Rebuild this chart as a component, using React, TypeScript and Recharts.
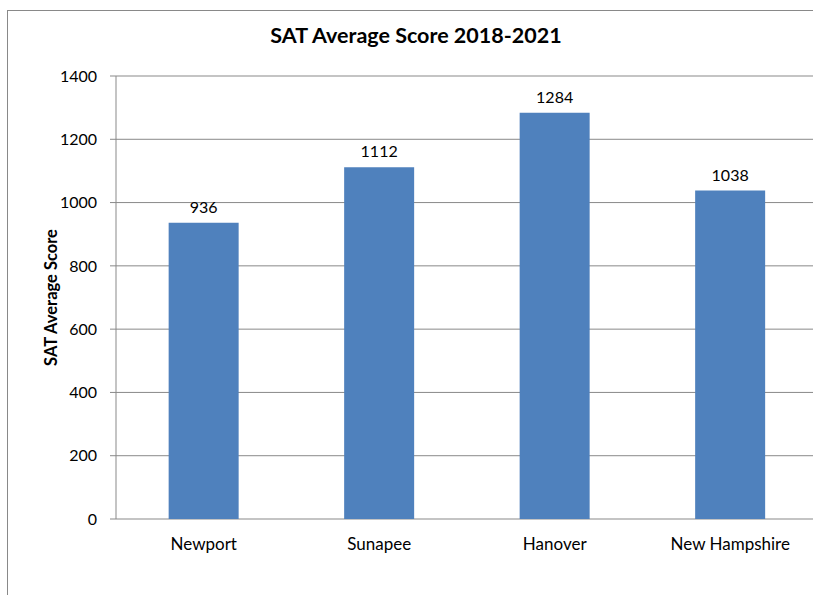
import React from "react";
import { BarChart, Bar, XAxis, YAxis, CartesianGrid, LabelList } from "recharts";

const categories = ["Newport", "Sunapee", "Hanover", "New Hampshire"];
const scores = [936, 1112, 1284, 1038];
const yTicks = [0, 200, 400, 600, 800, 1000, 1200, 1400];
const boundaryTicks = [0, 1, 2, 3, 4];

const data = categories.map((name, i) => ({ name, score: scores[i] }));

const FONT = "Lato, 'Open Sans', sans-serif";
const GRAY = "#898989";

export default function App() {
  return (
    <div
      style={{
        position: "fixed",
        left: 0,
        top: 0,
        width: 813,
        height: 595,
        overflow: "hidden",
        background: "#fff",
        fontFamily: FONT,
      }}
    >
      <div
        style={{
          position: "absolute",
          left: 7,
          top: 10,
          width: 840,
          height: 620,
          border: `1px solid ${GRAY}`,
          boxSizing: "border-box",
        }}
      />
      <div
        style={{
          position: "absolute",
          left: 0,
          top: 22,
          width: 832,
          textAlign: "center",
          fontWeight: 700,
          fontSize: 21.5,
          color: "#000",
        }}
      >
        SAT Average Score 2018-2021
      </div>
      <div style={{ position: "absolute", left: 0, top: 0 }}>
        <BarChart
          width={830}
          height={600}
          data={data}
          margin={{ top: 76, right: 12, bottom: 51, left: 56 }}
          barCategoryGap="30%"
        >
          <CartesianGrid vertical={false} stroke={GRAY} strokeWidth={1} />
          <XAxis
            xAxisId={0}
            type="number"
            domain={[0, 4]}
            ticks={boundaryTicks}
            allowDataOverflow
            height={0}
            tick={false}
            tickSize={6}
            axisLine={{ stroke: GRAY }}
            tickLine={{ stroke: GRAY }}
          />
          <XAxis
            xAxisId="cat"
            dataKey="name"
            type="category"
            height={30}
            axisLine={false}
            tickLine={false}
            tickSize={0}
            tickMargin={19}
            tick={{ fill: "#000", fontSize: 17, fontFamily: FONT }}
          />
          <YAxis
            domain={[0, 1400]}
            ticks={yTicks}
            width={60}
            tickSize={6}
            tickMargin={13}
            axisLine={{ stroke: GRAY }}
            tickLine={{ stroke: GRAY }}
            tick={{ fill: "#000", fontSize: 16, fontFamily: FONT }}
            label={{
              value: "SAT Average Score",
              angle: -90,
              position: "insideLeft",
              dx: -10,
              dy: 0,
              style: {
                textAnchor: "middle",
                fontWeight: 700,
                fontSize: 16.5,
                fill: "#000",
                fontFamily: FONT,
              },
            }}
          />
          <Bar dataKey="score" xAxisId="cat" fill="#4f81bd" isAnimationActive={false}>
            <LabelList
              dataKey="score"
              position="top"
              offset={10}
              style={{ fill: "#000", fontSize: 16, fontFamily: FONT }}
            />
          </Bar>
        </BarChart>
      </div>
    </div>
  );
}
